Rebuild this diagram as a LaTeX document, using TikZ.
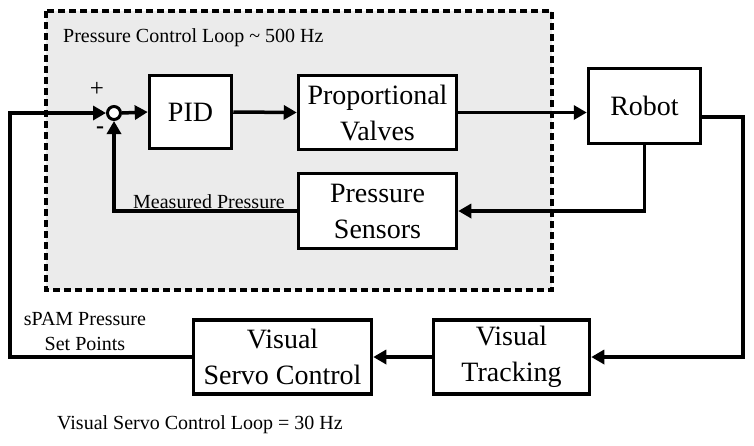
\documentclass[tikz,border=0pt]{standalone}
\usepackage{fontspec}
\setmainfont{Liberation Serif}
\usetikzlibrary{arrows.meta,calc}
\definecolor{loopgray}{HTML}{EBEBEB}
\tikzset{
  blk/.style={draw,line width=3.5pt,fill=white,align=center,inner sep=0pt,
    font=\fontsize{28}{36}\selectfont},
  arr/.style={line width=3.5pt,-{Triangle[length=13pt,width=14pt]}},
  small/.style={font=\fontsize{20}{25}\selectfont,inner sep=0pt,align=center},
}
\begin{document}
\begin{tikzpicture}[x=1pt,y=-1pt]
\useasboundingbox (0,0) rectangle (754,445);
% dashed loop region
\draw[line width=3.2pt,dash pattern=on 7pt off 4pt,fill=loopgray] (46,11) rectangle (552,290);
\node[small,anchor=west] (title) at (63,38) {Pressure Control Loop \char`~\ 500 Hz};
% blocks
\node[draw,circle,line width=3pt,fill=white,minimum size=13pt,inner sep=0pt] (sum) at (114,113) {};
\node[blk,minimum width=82pt,minimum height=73pt] (pid) at (190.5,112) {PID};
\node[blk,minimum width=158pt,minimum height=74pt] (prop) at (377.5,112.5) {Proportional\\Valves};
\node[blk,minimum width=112pt,minimum height=75pt] (robot) at (644.5,106) {Robot};
\node[blk,minimum width=158pt,minimum height=75pt] (sens) at (377.5,211) {Pressure\\Sensors};
\node[blk,minimum width=178pt,minimum height=74pt] (vsc) at (282.5,357) {Visual\\Servo Control};
\node[blk,minimum width=156pt,minimum height=74pt] (vt) at (511.5,357) {Visual\\Tracking};
% labels
\node[small,font=\fontsize{25}{25}\selectfont] (plus) at (97,89) {+};
\node[small,font=\fontsize{24}{25}\selectfont\bfseries] (minus) at (100,130) {-};
\node[small,anchor=south] (meas) at (209,209) {Measured Pressure};
\node[small] (spam) at (85,331) {sPAM Pressure\\Set Points};
\node[small] (vloop) at (200,425) {Visual Servo Control Loop = 30 Hz};
% coordinates
\coordinate (cl) at (10,113);
\coordinate (cr) at (743,117);
% connectors
\draw[arr] (vsc.west) -- (vsc.west -| cl) -- (cl) -- (sum.west);
\draw[arr] (sum.east) -- (pid.west);
\draw[arr] (pid.east) -- (prop.west);
\draw[arr] (prop.east) -- (prop.east -| robot.west);
\draw[arr] (robot.south) |- (sens.east);
\draw[arr] (sens.west) -| (sum.south);
\draw[arr] (robot.east |- cr) -- (cr) |- (vt.east);
\draw[arr] (vt.west) -- (vsc.east);
\end{tikzpicture}
\end{document}
